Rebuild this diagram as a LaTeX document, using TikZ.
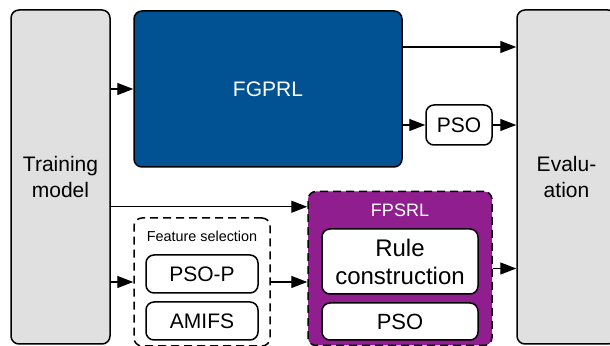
\documentclass[tikz,border=0pt]{standalone}
\usepackage{fontspec}
\setmainfont{Liberation Sans}
\usetikzlibrary{arrows.meta,positioning,calc}
\definecolor{fgblue}{HTML}{005293}
\definecolor{fppurple}{HTML}{911E8E}
\definecolor{boxgray}{HTML}{E0E0E0}

\begin{document}
\begin{tikzpicture}[x=0.5pt,y=-0.5pt,>={Triangle[length=8pt,width=6pt]},line width=0.7pt,
side box/.style={draw,rounded corners=4pt,line width=0.75pt,fill=boxgray,minimum width=49.5pt,minimum height=167pt,inner sep=0pt,align=center,font=\fontsize{10.5}{13}\selectfont},
small box/.style={draw,rounded corners=4pt,line width=0.75pt,fill=white,inner sep=0pt,align=center,font=\fontsize{10.5}{13}\selectfont},
group box/.style={draw,rounded corners=4pt,line width=0.75pt,dash pattern=on 4pt off 2.5pt,inner sep=0pt}]
\useasboundingbox (0,0) rectangle (610,346);
\begin{scope}
\node[side box] (train) at (60.5,177) {Training\\model};
\node[side box] (eval) at (566.5,177) {Evalu-\\ation};
\node[draw,rounded corners=4pt,line width=0.75pt,fill=fgblue,text=white,minimum width=134pt,minimum height=78pt,font=\fontsize{10.5}{13}\selectfont] (fgprl) at (268,89) {FGPRL};
\node[small box,minimum width=33pt,minimum height=20pt] (pso1) at (459,125) {PSO};
\end{scope}
% lower part
\begin{scope}
\node[group box,fill=fppurple,minimum width=92pt,minimum height=77pt] (fpsrl) at (400,268.5) {};
\node[text=white,font=\fontsize{9}{11}\selectfont] (fpsrllabel) at (400,210) {FPSRL};
\node[small box,minimum width=78pt,minimum height=32.5pt,font=\fontsize{12}{14}\selectfont] (rule) at (400,261.5) {Rule\\construction};
\node[small box,minimum width=78pt,minimum height=18.5pt,font=\fontsize{11}{13}\selectfont] (pso2) at (400,321.5) {PSO};
\node[group box,fill=white,minimum width=68pt,minimum height=64pt] (featsel) at (202,282) {};
\node[font=\fontsize{7.2}{9}\selectfont] (fslabel) at (202,236) {Feature selection};
\node[small box,minimum width=56pt,minimum height=19pt] (psop) at (202,274) {PSO-P};
\node[small box,minimum width=56pt,minimum height=19pt] (amifs) at (202,321) {AMIFS};
\end{scope}
\coordinate (fgout) at ([yshift=21pt]fgprl.east);
\coordinate (fpin) at ([yshift=-8pt]fpsrl.north west);
\begin{scope}
\draw[->] (train.east |- fgprl) -- (fgprl.west);
\draw[->] (fgout) -- (fgout -| eval.west);
\draw[->] (fgprl.east |- pso1) -- (pso1.west);
\draw[->] (pso1.east) -- (pso1 -| eval.west);
\draw[->] (train.east |- fpin) -- (fpin);
\draw[->] (train.east |- featsel) -- (featsel.west);
\draw[->] (featsel.east) -- (featsel.east -| fpsrl.west);
\draw[->] (fpsrl.east) -- (fpsrl.east -| eval.west);
\end{scope}
\end{tikzpicture}
\end{document}
